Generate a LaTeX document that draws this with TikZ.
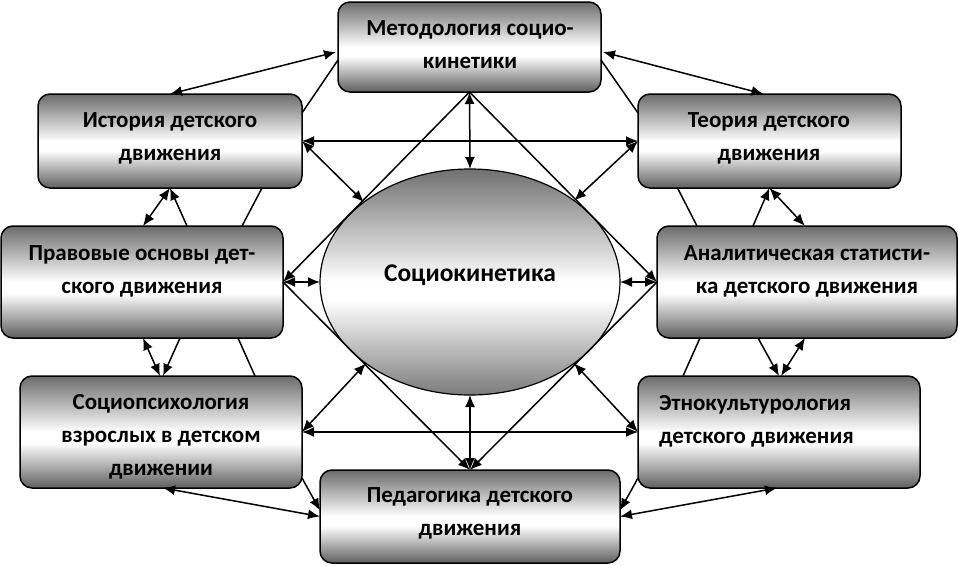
\documentclass[tikz,border=0pt]{standalone}
\usepackage{fontspec}
\setmainfont{Carlito}
\usetikzlibrary{arrows.meta,calc,shapes.geometric}
\pgfdeclareverticalshading{boxshade}{100bp}{color(0bp)=(black!63); color(25bp)=(black!63); color(45bp)=(white); color(50bp)=(white); color(75bp)=(black!58); color(100bp)=(black!58)}
\pgfdeclareverticalshading{ellshade}{100bp}{color(0bp)=(black!52); color(25bp)=(black!52); color(46bp)=(white); color(50bp)=(white); color(75bp)=(black!56); color(100bp)=(black!56)}
\tikzset{
  box/.style={draw=black, line width=1.5pt, rounded corners=12pt, shading=boxshade, inner sep=0pt, outer sep=0pt},
  lbl/.style={font=\fontsize{23}{33}\selectfont\bfseries, align=center, inner sep=0pt},
  con/.style={line width=1.5pt},
  one/.style={con, -{Latex[length=12pt,width=10pt]}},
  two/.style={con, {Latex[length=12pt,width=10pt]}-{Latex[length=12pt,width=10pt]}}
}
\begin{document}
\begin{tikzpicture}[x=1pt, y=-1pt]
\fill[white] (0,0) rectangle (958,565);
\useasboundingbox (0,0) rectangle (958,565);

% shapes
\node[ellipse, draw=black, line width=1.2pt, shading=ellshade, inner sep=0pt, outer sep=0pt,
      minimum width=300pt, minimum height=226pt] (ell) at (470,282) {};
\node[box, minimum width=263pt, minimum height=90pt] (meth) at (469.5,47) {};
\node[box, minimum width=264pt, minimum height=94pt] (hist) at (170,141) {};
\node[box, minimum width=263pt, minimum height=94pt] (theo) at (769.5,141) {};
\node[box, minimum width=282pt, minimum height=112pt] (legal) at (142,282) {};
\node[box, minimum width=300pt, minimum height=112pt] (anal) at (807,282) {};
\node[box, minimum width=282pt, minimum height=112pt] (socio) at (161,432) {};
\node[box, minimum width=282pt, minimum height=112pt] (ethno) at (779,432) {};
\node[box, minimum width=300pt, minimum height=93pt] (ped) at (470,516.5) {};

% texts
\node[lbl] (methT) at (470,45) {Методология социо-\\кинетики};
\node[lbl] (histT) at (170,138.5) {История детского\\движения};
\node[lbl] (theoT) at (769,138.5) {Теория детского\\движения};
\node[lbl] (legalT) at (142,271.5) {Правовые основы дет-\\ского движения};
\node[lbl] (analT) at (807,271.5) {Аналитическая статисти-\\ка детского движения};
\node[lbl] (socioT) at (161,436.5) {Социопсихология\\взрослых в детском\\движении};
\node[lbl, align=left, anchor=west] (ethnoT) at (659,421) {Этнокультурология\\детского движения};
\node[lbl] (pedT) at (470,513.5) {Педагогика детского\\движения};
\node[lbl, font=\fontsize{25.5}{28}\selectfont\bfseries] (ellT) at (470,275) {Социокинетика};

% central diamond
\draw[two] (meth.south) -- (ell.north);
\draw[two] (ell.south) -- (ped.north);
\draw[one] (meth.south) -- (legal.east);
\draw[one] (meth.south) -- (anal.west);
\draw[one] (legal.east) -- (ped.north);
\draw[one] (anal.west) -- (ped.north);
\draw[two] (legal.east) -- (ell.west);
\draw[two] (anal.west) -- (ell.east);

% upper and lower cross links
\draw[two] (hist.east) -- (theo.west);
\draw[two] (hist.east) -- (ell.143);
\draw[two] (theo.west) -- (ell.38);
\draw[two] (socio.east) -- (ethno.west);
\draw[two] (socio.east) -- (ell.218);
\draw[two] (ethno.west) -- (ell.322);

% methodology to history / theory
\draw[two] ($(meth.west)+(-2,5)$) -- (hist.north);
\draw[con] ($(hist.east)+(0,-28)$) -- ($(meth.west)+(0,13)$);
\draw[two] ($(meth.east)+(2,5)$) -- ($(theo.north)+(-6,0)$);
\draw[con] ($(theo.west)+(0,-28)$) -- ($(meth.east)+(0,13)$);

% history - legal
\draw[two] (hist.south) -- ($(legal.north)+(1,0)$);
\draw[one] ($(legal.north)+(45,0)$) -- (hist.south);
\draw[con] ($(hist.south)+(92,0)$) -- ($(legal.north)+(100,0)$);

% legal - socio
\draw[two] ($(legal.south)+(1,0)$) -- ($(socio.north)+(-1,0)$);
\draw[one] ($(legal.south)+(38,0)$) -- ($(socio.north)+(2,0)$);
\draw[con] ($(legal.south)+(96,0)$) -- ($(socio.north)+(94,0)$);

% theory - analytical
\draw[one] ($(anal.north)+(-54,0)$) -- (theo.south);
\draw[two] (theo.south) -- ($(anal.north)+(-2,0)$);
\draw[con] ($(theo.south)+(-92,0)$) -- ($(anal.north)+(-110,0)$);

% analytical - ethno
\draw[one] ($(anal.south)+(-49,0)$) -- (ethno.north);
\draw[two] ($(anal.south)+(-2,0)$) -- ($(ethno.north)+(2,0)$);
\draw[con] ($(anal.south)+(-107,0)$) -- ($(ethno.north)+(-96,0)$);

% socio / ethno - pedagogy
\draw[two] ($(socio.south)+(2,0)$) -- (ped.west);
\draw[one] ($(socio.east)+(0,46)$) -- ($(ped.west)+(0,-6)$);
\draw[two] ($(ethno.south)+(-2,0)$) -- (ped.east);
\draw[one] ($(ethno.west)+(0,46)$) -- ($(ped.east)+(0,-6)$);
\end{tikzpicture}
\end{document}
